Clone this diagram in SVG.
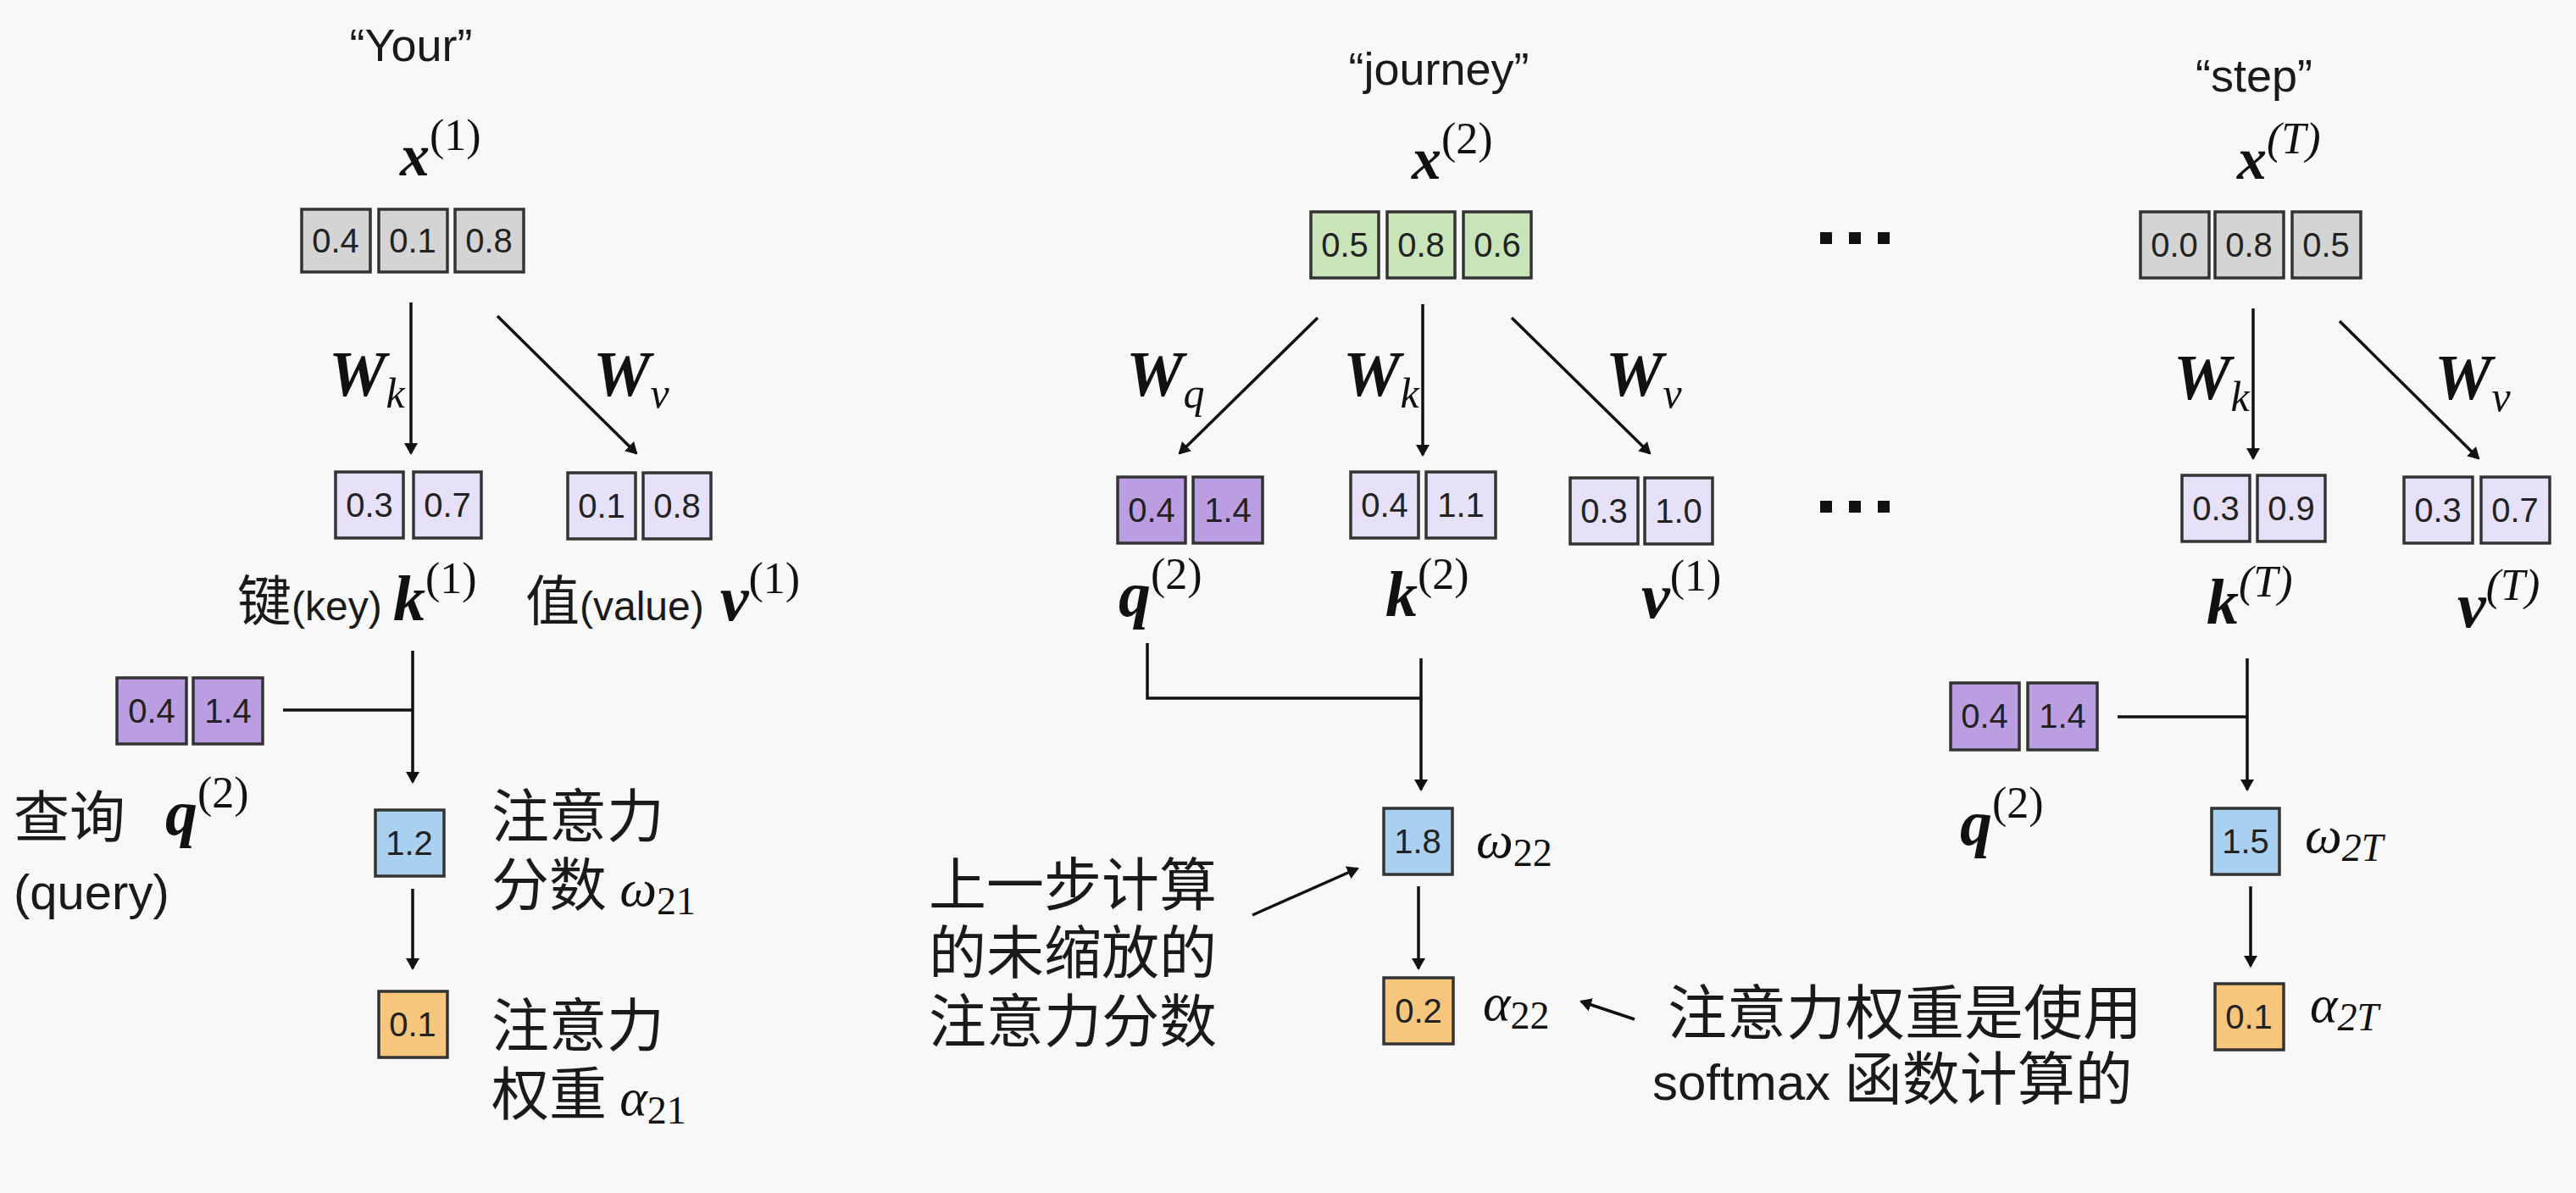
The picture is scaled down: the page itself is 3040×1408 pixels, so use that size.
<svg xmlns="http://www.w3.org/2000/svg" width="3040" height="1408" viewBox="0 0 3040 1408">
<style>
.b{stroke:#333;stroke-width:3.5}
.g{fill:#d4d4d4}.gr{fill:#c8e4b8}.l{fill:#e6e0f8}.p{fill:#bb9ee2}.bl{fill:#aad0ef}.o{fill:#f5c67c}
.n{font-family:"Liberation Sans",Arial,sans-serif;font-size:40px;fill:#222;text-anchor:middle}
.m{font-family:"Liberation Serif","DejaVu Serif",serif;fill:#111}
.bi{font-weight:bold;font-style:italic}
.it{font-style:italic}
.cj{font-family:"Noto Sans CJK SC","Noto Sans",sans-serif;fill:#1a1a1a}
.w{font-family:"Liberation Sans","Noto Sans CJK SC",sans-serif;fill:#1a1a1a}
.ln{stroke:#111;stroke-width:3.5;fill:none}
</style>
<defs>
<marker id="h" viewBox="-12 -9 14 18" refX="0" refY="0" markerWidth="14" markerHeight="18" markerUnits="userSpaceOnUse" orient="auto"><path d="M-12,-8 L2,0 L-12,8 Z" fill="#111"/></marker>
</defs>
<rect width="3040" height="1408" fill="#f8f8f8"/>

<g id="connectors">
<line class="ln" x1="485" y1="357" x2="485" y2="535" marker-end="url(#h)"/>
<line class="ln" x1="587" y1="373" x2="751" y2="535" marker-end="url(#h)"/>
<polyline class="ln" points="334,838 487,838"/>
<line class="ln" x1="487" y1="768" x2="487" y2="923" marker-end="url(#h)"/>
<line class="ln" x1="487" y1="1049" x2="487" y2="1143" marker-end="url(#h)"/>

<line class="ln" x1="1555" y1="375" x2="1392" y2="535" marker-end="url(#h)"/>
<line class="ln" x1="1679" y1="359" x2="1679" y2="537" marker-end="url(#h)"/>
<line class="ln" x1="1784" y1="375" x2="1947" y2="535" marker-end="url(#h)"/>
<polyline class="ln" points="1354,759 1354,824 1677,824"/>
<line class="ln" x1="1677" y1="777" x2="1677" y2="932" marker-end="url(#h)"/>
<line class="ln" x1="1674" y1="1046" x2="1674" y2="1143" marker-end="url(#h)"/>
<line class="ln" x1="1478" y1="1080" x2="1602" y2="1025" marker-end="url(#h)"/>
<line class="ln" x1="1929" y1="1203" x2="1866" y2="1182" marker-end="url(#h)"/>

<line class="ln" x1="2659" y1="364" x2="2659" y2="541" marker-end="url(#h)"/>
<line class="ln" x1="2761" y1="379" x2="2925" y2="541" marker-end="url(#h)"/>
<polyline class="ln" points="2499,846 2652,846"/>
<line class="ln" x1="2652" y1="777" x2="2652" y2="932" marker-end="url(#h)"/>
<line class="ln" x1="2656" y1="1046" x2="2656" y2="1140" marker-end="url(#h)"/>
</g>

<g id="dots" fill="#111">
<rect x="2148" y="274" width="14" height="14"/><rect x="2182" y="274" width="14" height="14"/><rect x="2216" y="274" width="14" height="14"/>
<rect x="2148" y="591" width="14" height="14"/><rect x="2182" y="591" width="14" height="14"/><rect x="2216" y="591" width="14" height="14"/>
</g>

<g id="token1">
<text class="w" x="485" y="72" font-size="54" text-anchor="middle">“Your”</text>
<text class="m" x="472" y="207"><tspan class="bi" font-size="70">x</tspan><tspan font-size="52" dy="-30">(1)</tspan></text>
<rect class="b g" x="356" y="247" width="81" height="74"/><text class="n" x="396" y="298">0.4</text>
<rect class="b g" x="447" y="247" width="81" height="74"/><text class="n" x="487" y="298">0.1</text>
<rect class="b g" x="537" y="247" width="81" height="74"/><text class="n" x="577" y="298">0.8</text>
</g>
<g id="wlabels1">
<text class="m" x="388" y="467"><tspan class="bi" font-size="76">W</tspan><tspan class="it" font-size="50" dy="14">k</tspan></text>
<text class="m" x="700" y="467"><tspan class="bi" font-size="76">W</tspan><tspan class="it" font-size="50" dy="14">v</tspan></text>
</g>
<g id="key1">
<rect class="b l" x="396" y="557" width="80" height="78"/><text class="n" x="436" y="610">0.3</text>
<rect class="b l" x="488" y="557" width="80" height="78"/><text class="n" x="528" y="610">0.7</text>
<text x="280" y="732"><tspan class="cj" font-size="64">键</tspan><tspan class="w" font-size="48">(key) </tspan><tspan class="m bi" font-size="76">k</tspan><tspan class="m" font-size="52" dy="-32">(1)</tspan></text>
</g>
<g id="value1">
<rect class="b l" x="670" y="558" width="80" height="78"/><text class="n" x="710" y="611">0.1</text>
<rect class="b l" x="759" y="558" width="80" height="78"/><text class="n" x="799" y="611">0.8</text>
<text x="620" y="732"><tspan class="cj" font-size="64">值</tspan><tspan class="w" font-size="48">(value)</tspan><tspan class="m bi" font-size="76"> v</tspan><tspan class="m" font-size="52" dy="-32">(1)</tspan></text>
</g>
<g id="query1">
<rect class="b p" x="138" y="800" width="82" height="78"/><text class="n" x="179" y="853">0.4</text>
<rect class="b p" x="228" y="800" width="82" height="78"/><text class="n" x="269" y="853">1.4</text>
<text class="cj" x="16" y="988" font-size="66">查询</text>
<text class="m" x="195" y="985"><tspan class="bi" font-size="76">q</tspan><tspan font-size="52" dy="-32">(2)</tspan></text>
<text class="w" x="16" y="1073" font-size="58">(query)</text>
</g>
<g id="score1">
<rect class="b bl" x="443" y="956" width="81" height="78"/><text class="n" x="483" y="1009">1.2</text>
<text class="cj" x="580" y="988" font-size="68">注意力</text>
<text x="580" y="1069"><tspan class="cj" font-size="68">分数 </tspan><tspan class="m it" font-size="62">ω</tspan><tspan class="m" font-size="46" dy="10">21</tspan></text>
</g>
<g id="weight1">
<rect class="b o" x="447" y="1170" width="81" height="78"/><text class="n" x="487" y="1223">0.1</text>
<text class="cj" x="580" y="1235" font-size="68">注意力</text>
<text x="580" y="1316"><tspan class="cj" font-size="68">权重 </tspan><tspan class="m it" font-size="62">α</tspan><tspan class="m" font-size="46" dy="10">21</tspan></text>
</g>

<g id="token2">
<text class="w" x="1698" y="100" font-size="54" text-anchor="middle">“journey”</text>
<text class="m" x="1666" y="211"><tspan class="bi" font-size="70">x</tspan><tspan font-size="52" dy="-30">(2)</tspan></text>
<rect class="b gr" x="1547" y="250" width="80" height="78"/><text class="n" x="1587" y="303">0.5</text>
<rect class="b gr" x="1637" y="250" width="80" height="78"/><text class="n" x="1677" y="303">0.8</text>
<rect class="b gr" x="1727" y="250" width="80" height="78"/><text class="n" x="1767" y="303">0.6</text>
</g>
<g id="wlabels2">
<text class="m" x="1329" y="467"><tspan class="bi" font-size="76">W</tspan><tspan class="it" font-size="50" dy="14">q</tspan></text>
<text class="m" x="1585" y="467"><tspan class="bi" font-size="76">W</tspan><tspan class="it" font-size="50" dy="14">k</tspan></text>
<text class="m" x="1895" y="467"><tspan class="bi" font-size="76">W</tspan><tspan class="it" font-size="50" dy="14">v</tspan></text>
</g>
<g id="query2">
<rect class="b p" x="1319" y="563" width="80" height="78"/><text class="n" x="1359" y="616">0.4</text>
<rect class="b p" x="1408" y="563" width="82" height="78"/><text class="n" x="1449" y="616">1.4</text>
<text class="m" x="1320" y="727"><tspan class="bi" font-size="76">q</tspan><tspan font-size="52" dy="-32">(2)</tspan></text>
</g>
<g id="key2">
<rect class="b l" x="1594" y="557" width="80" height="78"/><text class="n" x="1634" y="610">0.4</text>
<rect class="b l" x="1683" y="557" width="82" height="78"/><text class="n" x="1724" y="610">1.1</text>
<text class="m" x="1635" y="727"><tspan class="bi" font-size="76">k</tspan><tspan font-size="52" dy="-32">(2)</tspan></text>
</g>
<g id="value2">
<rect class="b l" x="1853" y="564" width="80" height="78"/><text class="n" x="1893" y="617">0.3</text>
<rect class="b l" x="1941" y="564" width="80" height="78"/><text class="n" x="1981" y="617">1.0</text>
<text class="m" x="1937" y="729"><tspan class="bi" font-size="76">v</tspan><tspan font-size="52" dy="-32">(1)</tspan></text>
</g>
<g id="score2">
<rect class="b bl" x="1633" y="954" width="81" height="78"/><text class="n" x="1673" y="1007">1.8</text>
<text class="m" x="1742" y="1012"><tspan class="it" font-size="62">ω</tspan><tspan font-size="46" dy="10">22</tspan></text>
</g>
<g id="weight2">
<rect class="b o" x="1633" y="1154" width="82" height="78"/><text class="n" x="1674" y="1207">0.2</text>
<text class="m" x="1750" y="1204"><tspan class="it" font-size="62">α</tspan><tspan font-size="46" dy="10">22</tspan></text>
</g>
<g id="note1">
<text class="cj" x="1096" y="1069" font-size="68">上一步计算</text>
<text class="cj" x="1096" y="1149" font-size="68">的未缩放的</text>
<text class="cj" x="1096" y="1230" font-size="68">注意力分数</text>
</g>
<g id="note2">
<text class="cj" x="1968" y="1221" font-size="70">注意力权重是使用</text>
<text x="1950" y="1298"><tspan class="w" font-size="60">softmax </tspan><tspan class="cj" font-size="68">函数计算的</tspan></text>
</g>

<g id="tokenT">
<text class="w" x="2660" y="108" font-size="54" text-anchor="middle">“step”</text>
<text class="m" x="2640" y="211"><tspan class="bi" font-size="70">x</tspan><tspan class="it" font-size="52" dy="-30">(T)</tspan></text>
<rect class="b g" x="2526" y="250" width="81" height="78"/><text class="n" x="2566" y="303">0.0</text>
<rect class="b g" x="2614" y="250" width="81" height="78"/><text class="n" x="2654" y="303">0.8</text>
<rect class="b g" x="2705" y="250" width="81" height="78"/><text class="n" x="2745" y="303">0.5</text>
</g>
<g id="wlabelsT">
<text class="m" x="2565" y="471"><tspan class="bi" font-size="76">W</tspan><tspan class="it" font-size="50" dy="14">k</tspan></text>
<text class="m" x="2873" y="471"><tspan class="bi" font-size="76">W</tspan><tspan class="it" font-size="50" dy="14">v</tspan></text>
</g>
<g id="keyT">
<rect class="b l" x="2575" y="561" width="80" height="78"/><text class="n" x="2615" y="614">0.3</text>
<rect class="b l" x="2664" y="561" width="80" height="78"/><text class="n" x="2704" y="614">0.9</text>
<text class="m" x="2604" y="736"><tspan class="bi" font-size="76">k</tspan><tspan class="it" font-size="52" dy="-32">(T)</tspan></text>
</g>
<g id="valueT">
<rect class="b l" x="2837" y="563" width="81" height="78"/><text class="n" x="2877" y="616">0.3</text>
<rect class="b l" x="2928" y="563" width="81" height="78"/><text class="n" x="2968" y="616">0.7</text>
<text class="m" x="2900" y="740"><tspan class="bi" font-size="76">v</tspan><tspan class="it" font-size="52" dy="-32">(T)</tspan></text>
</g>
<g id="queryT">
<rect class="b p" x="2302" y="806" width="81" height="79"/><text class="n" x="2342" y="859">0.4</text>
<rect class="b p" x="2393" y="806" width="82" height="79"/><text class="n" x="2434" y="859">1.4</text>
<text class="m" x="2313" y="997"><tspan class="bi" font-size="76">q</tspan><tspan font-size="52" dy="-32">(2)</tspan></text>
</g>
<g id="scoreT">
<rect class="b bl" x="2610" y="954" width="80" height="78"/><text class="n" x="2650" y="1007">1.5</text>
<text class="m" x="2720" y="1006"><tspan class="it" font-size="62">ω</tspan><tspan class="it" font-size="46" dy="10">2T</tspan></text>
</g>
<g id="weightT">
<rect class="b o" x="2614" y="1161" width="81" height="78"/><text class="n" x="2654" y="1214">0.1</text>
<text class="m" x="2726" y="1206"><tspan class="it" font-size="62">α</tspan><tspan class="it" font-size="46" dy="10">2T</tspan></text>
</g>
</svg>
